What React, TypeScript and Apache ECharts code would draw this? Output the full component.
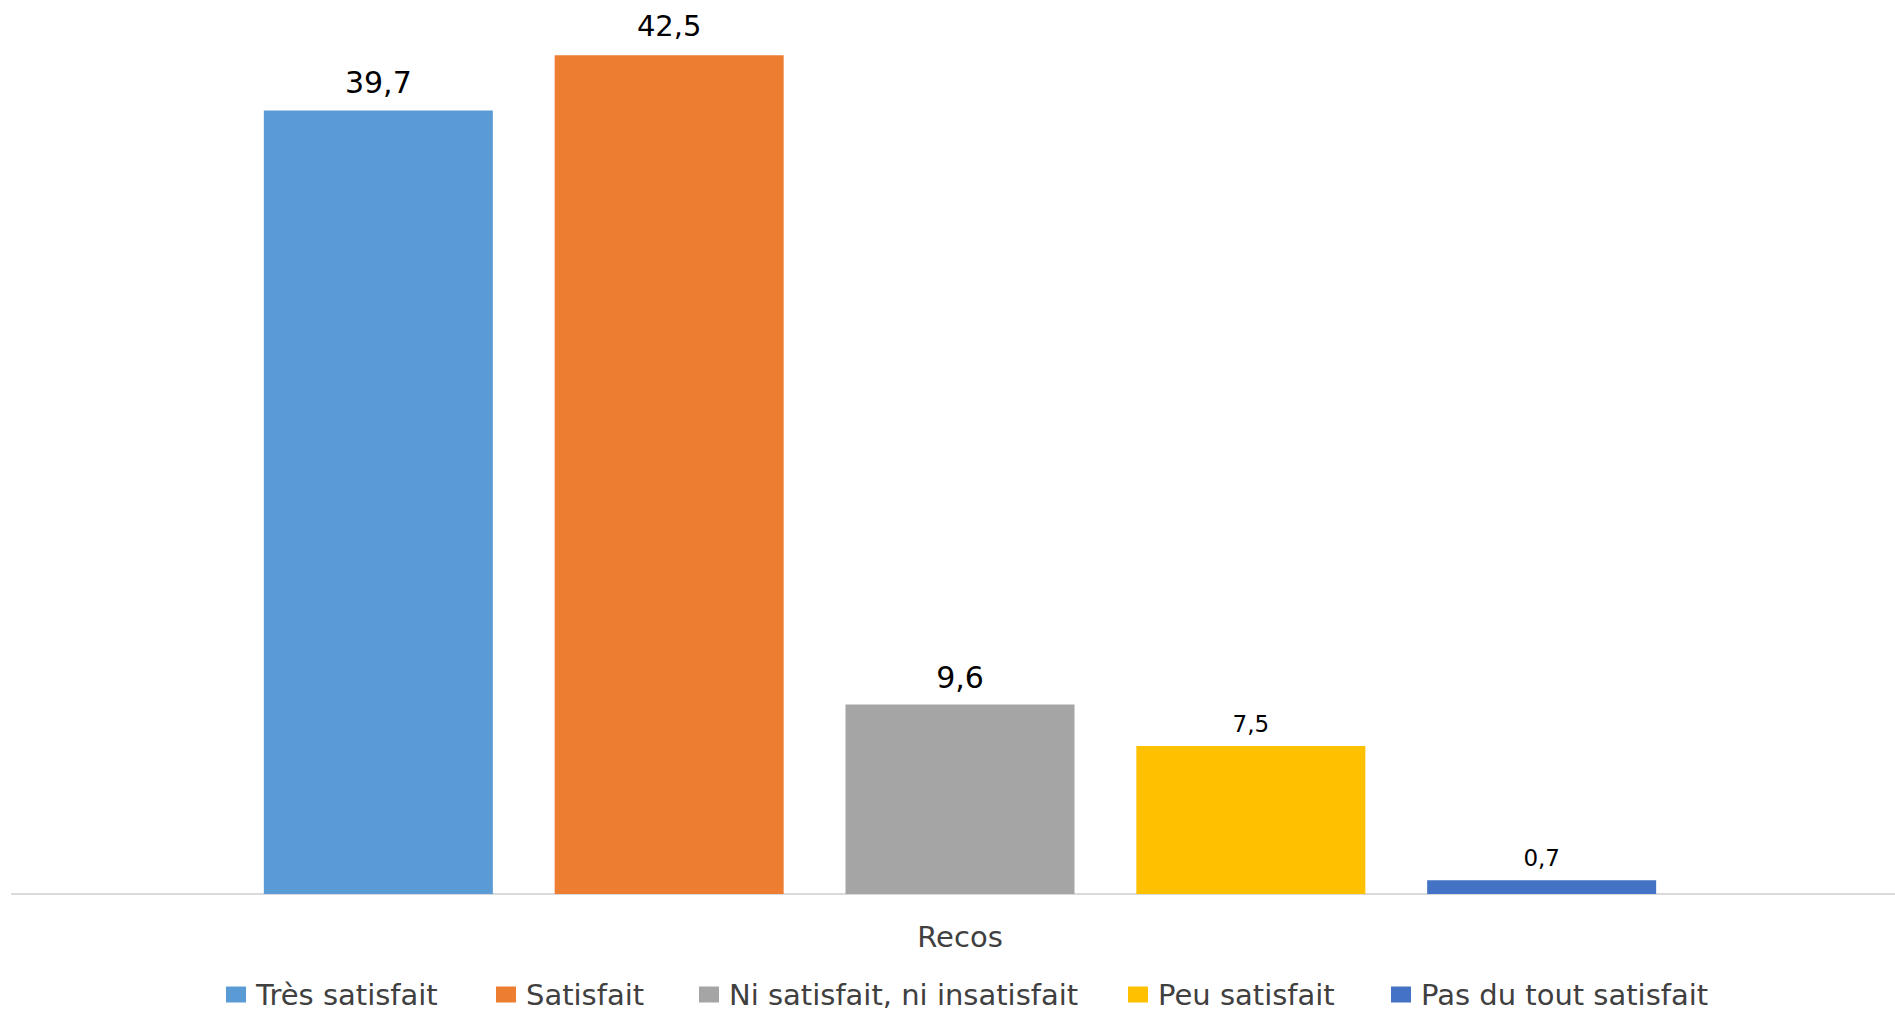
import React, { useEffect, useRef } from "react";
import * as echarts from "echarts";

const categories = ["Recos"];
const seriesNames = [
  "Très satisfait",
  "Satisfait",
  "Ni satisfait, ni insatisfait",
  "Peu satisfait",
  "Pas du tout satisfait",
];
const seriesValues = [39.7, 42.5, 9.6, 7.5, 0.7];
const seriesColors = ["#5B9BD5", "#ED7D31", "#A5A5A5", "#FFC000", "#4472C4"];
const labelSizes = [30, 29, 30, 23, 23];
const labelDistances = [13, 15, 12, 11, 11];
const legendLefts = [226, 496, 699, 1128, 1391];

const FONT = "'DejaVu Sans', 'Open Sans', sans-serif";

export default function App() {
  const ref = useRef<HTMLDivElement>(null);
  useEffect(() => {
    if (!ref.current) return;
    const chart = echarts.init(ref.current, undefined, { renderer: "svg" });
    chart.setOption({
      animation: false,
      backgroundColor: "#ffffff",
      grid: { left: 12, right: 0, top: 6, bottom: 117, containLabel: false },
      xAxis: {
        type: "category",
        data: categories,
        axisLine: { show: true, lineStyle: { color: "#D9D9D9", width: 2 } },
        axisTick: { show: false },
        axisLabel: {
          margin: 28,
          fontFamily: FONT,
          fontSize: 29,
          color: "#404040",
        },
      },
      yAxis: {
        type: "value",
        min: 0,
        max: 45,
        show: false,
        splitLine: { show: false },
      },
      legend: seriesNames.map((name, i) => ({
        data: [name],
        left: legendLefts[i],
        top: 980,
        icon: "rect",
        itemWidth: 20,
        itemHeight: 16,
        padding: 0,
        textStyle: {
          fontFamily: FONT,
          fontSize: 29,
          color: "#404040",
          padding: [0, 0, 0, 5],
        },
        selectedMode: false,
      })),
      series: seriesNames.map((name, i) => ({
        name,
        type: "bar",
        data: [seriesValues[i]],
        barWidth: 229,
        barGap: "27%",
        itemStyle: { color: seriesColors[i] },
        label: {
          show: true,
          position: "top",
          distance: labelDistances[i],
          fontFamily: FONT,
          fontSize: labelSizes[i],
          color: "#000000",
          formatter: (p: any) => String(p.value).replace(".", ","),
        },
      })),
    });
    return () => chart.dispose();
  }, []);
  return (
    <div
      style={{
        position: "fixed",
        left: 0,
        top: 0,
        width: 1895,
        height: 1011,
        overflow: "hidden",
        background: "#ffffff",
      }}
    >
      <div ref={ref} style={{ width: 1908, height: 1011 }} />
    </div>
  );
}
